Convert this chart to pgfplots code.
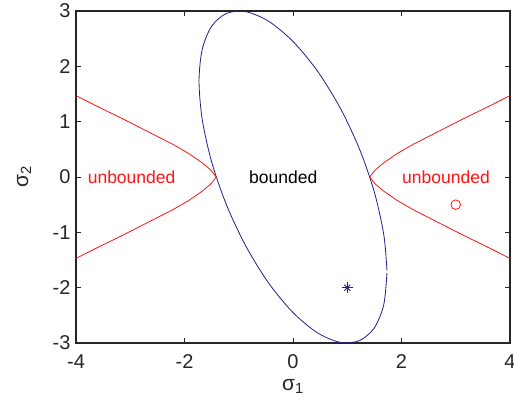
\documentclass[border=0pt]{standalone}
\usepackage{fontspec}
\setmainfont{Liberation Sans}
\usepackage{pgfplots}
\pgfplotsset{compat=1.18}
\definecolor{ellblue}{RGB}{30,30,140}
\definecolor{myred}{RGB}{255,20,20}
\definecolor{axgray}{RGB}{38,38,38}
\begin{document}
\begin{tikzpicture}[font=\fontsize{17.5bp}{21bp}\selectfont]
\begin{axis}[name=ax, scale only axis, width=434bp, height=332bp,
  xmin=-4, xmax=4, ymin=-3, ymax=3,
  xtick={-4,-2,0,2,4}, ytick={-3,-2,-1,0,1,2,3},
  tick align=inside, major tick length=5bp,
  axis line style={line width=1.1bp, axgray},
  tick style={line width=0.8bp, axgray},
  /pgf/number format/assume math mode=true,
  ticklabel style={font=\fontsize{20bp}{24bp}\selectfont},
  xticklabel style={yshift=-8bp, text=axgray},
  yticklabel style={xshift=-2bp, text=axgray},
  xlabel={σ\textsubscript{1}}, ylabel={σ\textsubscript{2}},
  label style={font=\fontsize{21bp}{25bp}\selectfont},
  xlabel style={at={(axis description cs:0.5,-0.1)}, anchor=north, text=axgray},
  ylabel style={at={(axis description cs:-0.095,0.5)}, anchor=south, text=axgray},
]
% ellipse
\addplot[ellblue, line width=0.8bp, smooth] coordinates {
(1.732,-1.689) (1.673,-1.039) (1.5,-0.275) (1.225,0.507) (0.866,1.255)
(0.448,1.918) (0,2.449) (-0.448,2.814) (-0.866,2.987)
(-1.225,2.957) (-1.5,2.725) (-1.673,2.307) (-1.732,1.732) (-1.673,1.039)
(-1.5,0.275) (-1.225,-0.507) (-0.866,-1.255) (-0.448,-1.918) (0,-2.449)
(0.448,-2.814) (0.866,-2.987) (1.225,-2.957) (1.5,-2.725)
(1.673,-2.307) (1.732,-1.732)
};
% left red curve
\addplot[myred, line width=0.8bp] coordinates {
(-4,1.47) (-3.614,1.28) (-3.114,1.04) (-2.614,0.79) (-2.214,0.59)
(-1.914,0.42) (-1.664,0.25) (-1.514,0.125) (-1.414,0)
(-1.514,-0.125) (-1.664,-0.25) (-1.914,-0.42) (-2.214,-0.59)
(-2.614,-0.79) (-3.114,-1.04) (-3.614,-1.28) (-4,-1.47)
};
% right red curve
\addplot[myred, line width=0.8bp] coordinates {
(4,1.47) (3.614,1.28) (3.114,1.04) (2.614,0.79) (2.214,0.59)
(1.914,0.42) (1.664,0.25) (1.514,0.125) (1.414,0)
(1.514,-0.125) (1.664,-0.25) (1.914,-0.42) (2.214,-0.59)
(2.614,-0.79) (3.114,-1.04) (3.614,-1.28) (4,-1.47)
};
% markers
\addplot[ellblue, only marks, mark=+, mark size=5.5bp, mark options={line width=0.9bp}] coordinates {(1,-2)};
\addplot[ellblue, only marks, mark=x, mark size=4.2bp, mark options={line width=0.9bp}] coordinates {(1,-2)};
\addplot[myred, only marks, mark=o, mark size=4.8bp, mark options={line width=0.8bp}] coordinates {(3,-0.5)};
\node[text=myred] at (axis cs:-2.975,0) {unbounded};
\node[text=black] at (axis cs:-0.18,0) {bounded};
\node[text=myred] at (axis cs:2.82,0) {unbounded};
\end{axis}
\pgfresetboundingbox
\path[use as bounding box] ([shift={(-76bp,-63bp)}]ax.south west) rectangle ([shift={(4bp,11bp)}]ax.north east);
\end{tikzpicture}
\end{document}
